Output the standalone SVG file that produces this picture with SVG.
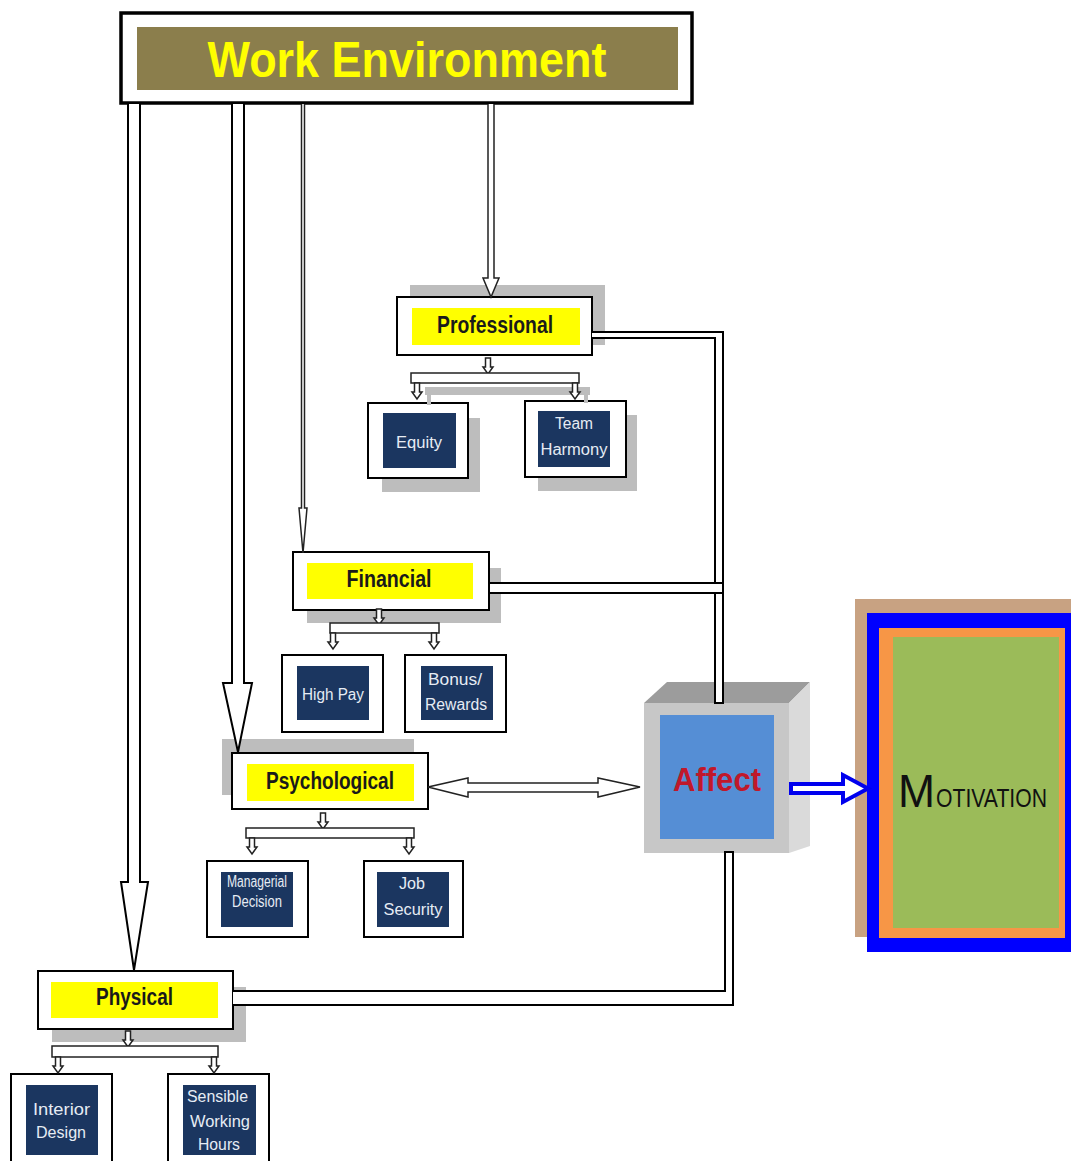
<svg xmlns="http://www.w3.org/2000/svg" xmlns:xlink="http://www.w3.org/1999/xlink" width="1071" height="1161" viewBox="0 0 1071 1161">
  <style>
    .box { fill: #ffffff; stroke: #000000; stroke-width: 2; }
    .shadow { fill: #bdbdbd; }
    .hl { fill: #ffff00; }
    .navy { fill: #1b3660; }
    .head { font-family: "Liberation Sans", Arial, sans-serif; font-weight: bold; font-size: 23px; fill: #1a1a1a; text-anchor: middle; }
    .sub { font-family: "Liberation Sans", Arial, sans-serif; font-size: 16px; fill: #e6ecf4; text-anchor: middle; }
    .pipe { fill: #ffffff; stroke: #000000; stroke-width: 2; stroke-linejoin: miter; }
    .thin { fill: #ffffff; stroke: #222222; stroke-width: 1.5; }
  </style>
  <defs>
    <!-- small hollow down-arrow, origin at top centre -->
    <path id="tick" d="M-2.5,0 V9 H-5 L0,16 L5,9 H2.5 V0 Z"/>
  </defs>

  <!-- top node -->
  <g id="work-environment">
    <rect x="121" y="13" width="571" height="90" fill="#ffffff" stroke="#000000" stroke-width="3.5"/>
    <rect x="137" y="27" width="541" height="63" fill="#8b7e4c"/>
    <text x="407" y="77" font-family="Liberation Sans, Arial, sans-serif" font-weight="bold" font-size="50" fill="#ffff00" text-anchor="middle" textLength="399" lengthAdjust="spacingAndGlyphs">Work Environment</text>
  </g>

  <!-- Affect cube -->
  <g id="affect">
    <polygon points="644,703 667,682 810,682 789,703" fill="#9c9c9c"/>
    <polygon points="789,703 810,682 810,846 789,853" fill="#dadada"/>
    <rect x="644" y="703" width="145" height="150" fill="#c7c7c7"/>
    <rect x="660" y="715" width="114" height="124" fill="#558ed5"/>
    <text x="717" y="791" font-family="Liberation Sans, Arial, sans-serif" font-weight="bold" font-size="34" fill="#c0182b" text-anchor="middle" textLength="88" lengthAdjust="spacingAndGlyphs">Affect</text>
  </g>

  <!-- Motivation panel -->
  <g id="motivation">
    <rect x="855" y="599" width="216" height="338" fill="#c8a282"/>
    <rect x="867" y="613" width="213" height="339" fill="#0000ff"/>
    <rect x="879" y="628" width="186" height="310" fill="#f79646"/>
    <rect x="893" y="637" width="166" height="291" fill="#9bbb59"/>
    <text y="807" font-family="Liberation Sans, Arial, sans-serif" fill="#111111"><tspan x="898" font-size="46" textLength="37" lengthAdjust="spacingAndGlyphs">M</tspan><tspan x="936" font-size="25" textLength="111" lengthAdjust="spacingAndGlyphs">OTIVATION</tspan></text>
  </g>

  <!-- category nodes -->
  <g id="professional">
    <rect class="shadow" x="410" y="285" width="195" height="60"/>
    <rect class="box" x="397" y="297" width="195" height="58"/>
    <rect class="hl" x="412" y="308" width="168" height="37"/>
    <text class="head" x="495" y="333" textLength="116" lengthAdjust="spacingAndGlyphs">Professional</text>
  </g>

  <g id="financial">
    <rect class="shadow" x="307" y="568" width="194" height="55"/>
    <rect class="box" x="293" y="552" width="196" height="58"/>
    <rect class="hl" x="307" y="563" width="166" height="36"/>
    <text class="head" x="389" y="587" textLength="85" lengthAdjust="spacingAndGlyphs">Financial</text>
  </g>

  <g id="psychological">
    <rect class="shadow" x="222" y="739" width="192" height="56"/>
    <rect class="box" x="232" y="753" width="196" height="56"/>
    <rect class="hl" x="247" y="764" width="167" height="37"/>
    <text class="head" x="330" y="789" textLength="128" lengthAdjust="spacingAndGlyphs">Psychological</text>
  </g>

  <g id="physical">
    <rect class="shadow" x="52" y="987" width="194" height="55"/>
    <rect class="box" x="38" y="971" width="195" height="58"/>
    <rect class="hl" x="51" y="982" width="167" height="36"/>
    <text class="head" x="134.5" y="1005" textLength="77" lengthAdjust="spacingAndGlyphs">Physical</text>
  </g>

  <!-- factor nodes -->
  <g id="equity">
    <rect class="shadow" x="382" y="418" width="98" height="74"/>
    <rect class="box" x="368" y="403" width="100" height="75"/>
    <rect class="navy" x="383" y="413" width="73" height="55"/>
    <text class="sub" x="419" y="448" textLength="46" lengthAdjust="spacingAndGlyphs">Equity</text>
  </g>

  <g id="team-harmony">
    <rect class="shadow" x="538" y="415" width="99" height="76"/>
    <rect class="box" x="525" y="401" width="101" height="76"/>
    <rect class="navy" x="538" y="411" width="72" height="56"/>
    <text class="sub" x="574" y="429" textLength="38" lengthAdjust="spacingAndGlyphs">Team</text>
    <text class="sub" x="574" y="455" textLength="67" lengthAdjust="spacingAndGlyphs">Harmony</text>
  </g>

  <g id="high-pay">
    <rect class="box" x="282" y="655" width="101" height="77"/>
    <rect class="navy" x="297" y="666" width="72" height="54"/>
    <text class="sub" x="333" y="700" textLength="62" lengthAdjust="spacingAndGlyphs">High Pay</text>
  </g>

  <g id="bonus-rewards">
    <rect class="box" x="405" y="655" width="101" height="77"/>
    <rect class="navy" x="421" y="666" width="72" height="54"/>
    <text class="sub" x="455" y="685" textLength="54" lengthAdjust="spacingAndGlyphs">Bonus/</text>
    <text class="sub" x="456" y="710" textLength="62" lengthAdjust="spacingAndGlyphs">Rewards</text>
  </g>

  <g id="managerial-decision">
    <rect class="box" x="207" y="861" width="101" height="76"/>
    <rect class="navy" x="221" y="872" width="72" height="55"/>
    <text class="sub" x="257" y="887" font-size="10" textLength="60" lengthAdjust="spacingAndGlyphs">Managerial</text>
    <text class="sub" x="257" y="907" font-size="10" textLength="50" lengthAdjust="spacingAndGlyphs">Decision</text>
  </g>

  <g id="job-security">
    <rect class="box" x="364" y="861" width="99" height="76"/>
    <rect class="navy" x="377" y="872" width="72" height="55"/>
    <text class="sub" x="412" y="889" textLength="26" lengthAdjust="spacingAndGlyphs">Job</text>
    <text class="sub" x="413" y="915" textLength="59" lengthAdjust="spacingAndGlyphs">Security</text>
  </g>

  <g id="interior-design">
    <rect class="box" x="11" y="1074" width="101" height="100"/>
    <rect class="navy" x="26" y="1085" width="72" height="70"/>
    <text class="sub" x="61.5" y="1115" textLength="57" lengthAdjust="spacingAndGlyphs">Interior</text>
    <text class="sub" x="61" y="1138" textLength="50" lengthAdjust="spacingAndGlyphs">Design</text>
  </g>

  <g id="sensible-working-hours">
    <rect class="box" x="168" y="1074" width="101" height="100"/>
    <rect class="navy" x="183" y="1085" width="73" height="70"/>
    <text class="sub" x="217.5" y="1102" textLength="61" lengthAdjust="spacingAndGlyphs">Sensible</text>
    <text class="sub" x="220" y="1127" textLength="60" lengthAdjust="spacingAndGlyphs">Working</text>
    <text class="sub" x="219" y="1150" textLength="42" lengthAdjust="spacingAndGlyphs">Hours</text>
  </g>

  <!-- connectors -->
  <g id="connectors">
    <!-- hollow arrows from Work Environment -->
    <path class="pipe" d="M128,104 V882 H121 L134,970 L148,882 H140 V104"/>
    <path class="pipe" d="M232,104 V683 H223 L238,752 L252,683 H244 V104"/>
    <path class="thin" d="M301.5,104 V508 H299 L303,553 L307,508 H304.5 V104"/>
    <path class="thin" d="M488,104 V278 H483 L491,297 L499,278 H494 V104"/>

    <!-- links into Affect -->
    <path class="pipe" d="M592,332 H723 V703 H715 V338 H592"/>
    <rect class="pipe" x="489" y="583" width="234" height="10"/>
    <path class="pipe" d="M233,991 H725 V852 H733 V1005 H233"/>

    <!-- Psychological <-> Affect -->
    <path class="thin" d="M428,787 L468,778 V783 H598 V778 L640,787 L598,797 V792 H468 V797 Z"/>

    <!-- Affect -> Motivation -->
    <path d="M791,784 H843 V775 L868,788.5 L843,802 V793 H791 Z" fill="#ffffff" stroke="#0000ee" stroke-width="4" stroke-linejoin="miter"/>

    <!-- Professional branches -->
    <rect class="shadow" x="425" y="387" width="165" height="8"/>
    <rect class="shadow" x="427" y="395" width="4" height="10"/>
    <rect class="shadow" x="584" y="395" width="4" height="8"/>
    <use xlink:href="#tick" href="#tick" class="thin" x="488" y="358"/>
    <rect class="thin" x="411" y="373" width="168" height="10"/>
    <use xlink:href="#tick" href="#tick" class="thin" x="417" y="383"/>
    <use xlink:href="#tick" href="#tick" class="thin" x="575" y="383"/>

    <!-- Financial branches -->
    <use xlink:href="#tick" href="#tick" class="thin" x="379" y="609"/>
    <rect class="thin" x="330" y="623" width="109" height="10"/>
    <use xlink:href="#tick" href="#tick" class="thin" x="333" y="633"/>
    <use xlink:href="#tick" href="#tick" class="thin" x="434" y="633"/>

    <!-- Psychological branches -->
    <use xlink:href="#tick" href="#tick" class="thin" x="323" y="813"/>
    <rect class="thin" x="246" y="828" width="168" height="10"/>
    <use xlink:href="#tick" href="#tick" class="thin" x="252" y="838"/>
    <use xlink:href="#tick" href="#tick" class="thin" x="409" y="838"/>

    <!-- Physical branches -->
    <use xlink:href="#tick" href="#tick" class="thin" x="128" y="1031"/>
    <rect class="thin" x="52" y="1046" width="166" height="11"/>
    <use xlink:href="#tick" href="#tick" class="thin" x="58" y="1057"/>
    <use xlink:href="#tick" href="#tick" class="thin" x="214" y="1057"/>
  </g>
</svg>
